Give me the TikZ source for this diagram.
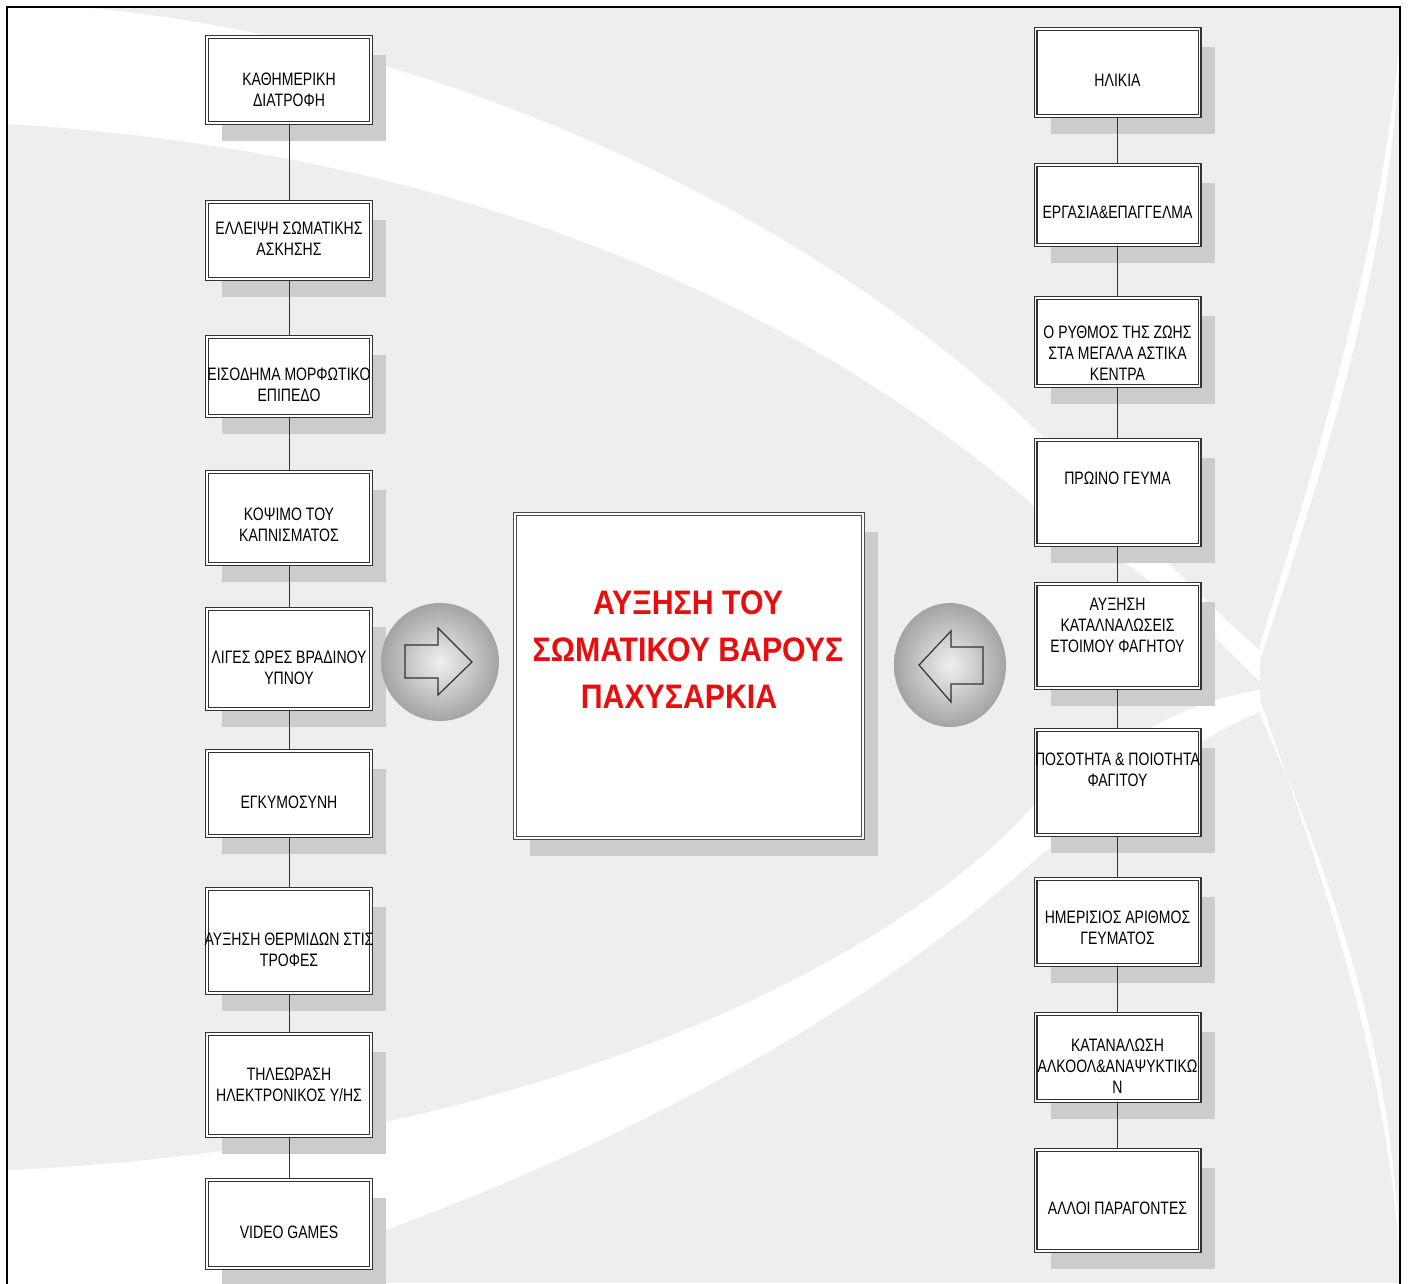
\documentclass[tikz,border=0pt]{standalone}
\usepackage{fontspec}
\newfontfamily\boxfont{Liberation Sans}[FakeStretch=0.78]
\newfontfamily\titlefont{Liberation Sans}[FakeStretch=0.89]
\usetikzlibrary{shadows, shapes.geometric, positioning}
\definecolor{bggray}{RGB}{238,238,238}
\definecolor{shadowgray}{RGB}{204,204,204}
\definecolor{linegray}{RGB}{50,50,50}
\definecolor{titlered}{RGB}{232,14,14}

\begin{document}
\begin{tikzpicture}[
  x=1pt, y=-1pt,
  factor/.style = {rectangle, draw=linegray, line width=1.2pt,
                   double=white, double distance=1.6pt, fill=white,
                   minimum width=164pt, inner sep=0pt,
                   drop shadow={shadow xshift=15pt, shadow yshift=-18pt,
                                opacity=1, fill=shadowgray}},
  ftext/.style  = {font=\boxfont\fontsize{18}{21}\selectfont,
                   align=center, inner sep=0pt},
  link/.style   = {draw=linegray, line width=1pt},
  knob/.style   = {inner sep=0pt, shading=radial,
                   inner color=gray!12, outer color=gray!72},
  blockarr/.style = {draw=linegray, line width=1.2pt, line join=miter},
]
\useasboundingbox (0,0) rectangle (1408,1283);

%% -- background swooshes -------------------------------------------------
\fill[bggray] (7,7) rectangle (1400,1283);
% upper band
\fill[white] (7,7) -- (80,7)
  .. controls (450,40) and (820,220) .. (1040,434)
  .. controls (1130,520) and (1200,600) .. (1260,650)
  -- (1260,682)
  .. controls (1190,610) and (1120,550) .. (1040,511)
  .. controls (800,300) and (450,150) .. (7,124) -- cycle;
% lower band
\fill[white] (7,1170)
  .. controls (500,1150) and (890,975) .. (1040,798)
  .. controls (1120,740) and (1190,700) .. (1260,690)
  -- (1260,712)
  .. controls (1190,740) and (1120,800) .. (1040,855)
  .. controls (850,1030) and (550,1190) .. (200,1290)
  -- (7,1290) -- cycle;
% thin strokes on the right
\fill[white] (1400,40) .. controls (1380,250) and (1320,450) .. (1260,645)
  -- (1260,660) .. controls (1330,450) and (1392,250) .. (1400,40) -- cycle;
\fill[white] (1400,1260) .. controls (1385,1050) and (1320,870) .. (1260,700)
  -- (1260,715) .. controls (1330,870) and (1393,1050) .. (1400,1260) -- cycle;
\draw[line width=2pt] (7,1290) -- (7,7) -- (1400,7) -- (1400,1290);

%% -- left column ---------------------------------------------------------
\node[factor, minimum height=86]  (l1) at (289,80)    {};
\node[factor, minimum height=77]  (l2) at (289,240.5) {};
\node[factor, minimum height=79]  (l3) at (289,376.5) {};
\node[factor, minimum height=92]  (l4) at (289,518)   {};
\node[factor, minimum height=100] (l5) at (289,659)   {};
\node[factor, minimum height=85]  (l6) at (289,793.5) {};
\node[factor, minimum height=104] (l7) at (289,941)   {};
\node[factor, minimum height=102] (l8) at (289,1085)  {};
\node[factor, minimum height=88]  (l9) at (289,1224)  {};

\node[ftext] (l1t) at (289,90)   {ΚΑΘΗΜΕΡΙΚΗ\\ΔΙΑΤΡΟΦΗ};
\node[ftext] (l2t) at (289,239)  {ΕΛΛΕΙΨΗ ΣΩΜΑΤΙΚΗΣ\\ΑΣΚΗΣΗΣ};
\node[ftext] (l3t) at (289,385)  {ΕΙΣΟΔΗΜΑ ΜΟΡΦΩΤΙΚΟ\\ΕΠΙΠΕΔΟ};
\node[ftext] (l4t) at (289,525)  {ΚΟΨΙΜΟ ΤΟΥ\\ΚΑΠΝΙΣΜΑΤΟΣ};
\node[ftext] (l5t) at (289,668)  {ΛΙΓΕΣ ΩΡΕΣ ΒΡΑΔΙΝΟΥ\\ΥΠΝΟΥ};
\node[ftext] (l6t) at (289,802)  {ΕΓΚΥΜΟΣΥΝΗ};
\node[ftext] (l7t) at (289,950)  {ΑΥΞΗΣΗ ΘΕΡΜΙΔΩΝ ΣΤΙΣ\\ΤΡΟΦΕΣ};
\node[ftext] (l8t) at (289,1085) {ΤΗΛΕΩΡΑΣΗ\\ΗΛΕΚΤΡΟΝΙΚΟΣ Υ/ΗΣ};
\node[ftext] (l9t) at (289,1232) {VIDEO GAMES};

\draw[link] (l1) -- (l2);
\draw[link] (l2) -- (l3);
\draw[link] (l3) -- (l4);
\draw[link] (l4) -- (l5);
\draw[link] (l5) -- (l6);
\draw[link] (l6) -- (l7);
\draw[link] (l7) -- (l8);
\draw[link] (l8) -- (l9);

%% -- right column --------------------------------------------------------
\node[factor, minimum height=87]  (r1) at (1117.5,72.5)  {};
\node[factor, minimum height=80]  (r2) at (1117.5,205)   {};
\node[factor, minimum height=88]  (r3) at (1117.5,342)   {};
\node[factor, minimum height=105] (r4) at (1117.5,492.5) {};
\node[factor, minimum height=104] (r5) at (1117.5,636)   {};
\node[factor, minimum height=105] (r6) at (1117.5,782.5) {};
\node[factor, minimum height=86]  (r7) at (1117.5,922)   {};
\node[factor, minimum height=87]  (r8) at (1117.5,1057.5) {};
\node[factor, minimum height=101] (r9) at (1117.5,1200.5) {};

\node[ftext] (r1t) at (1117.5,80)   {ΗΛΙΚΙΑ};
\node[ftext] (r2t) at (1117.5,212)  {ΕΡΓΑΣΙΑ\&ΕΠΑΓΓΕΛΜΑ};
\node[ftext] (r3t) at (1117.5,353)  {Ο ΡΥΘΜΟΣ ΤΗΣ ΖΩΗΣ\\ΣΤΑ ΜΕΓΑΛΑ ΑΣΤΙΚΑ\\ΚΕΝΤΡΑ};
\node[ftext] (r4t) at (1117.5,478)  {ΠΡΩΙΝΟ ΓΕΥΜΑ};
\node[ftext] (r5t) at (1117.5,625)  {ΑΥΞΗΣΗ\\ΚΑΤΑΛΝΑΛΩΣΕΙΣ\\ΕΤΟΙΜΟΥ ΦΑΓΗΤΟΥ};
\node[ftext] (r6t) at (1117.5,770)  {ΠΟΣΟΤΗΤΑ \& ΠΟΙΟΤΗΤΑ\\ΦΑΓΙΤΟΥ};
\node[ftext] (r7t) at (1117.5,928)  {ΗΜΕΡΙΣΙΟΣ ΑΡΙΘΜΟΣ\\ΓΕΥΜΑΤΟΣ};
\node[ftext] (r8t) at (1117.5,1066) {ΚΑΤΑΝΑΛΩΣΗ\\ΑΛΚΟΟΛ\&ΑΝΑΨΥΚΤΙΚΩ\\Ν};
\node[ftext] (r9t) at (1117.5,1208) {ΑΛΛΟΙ ΠΑΡΑΓΟΝΤΕΣ};

\draw[link] (r1) -- (r2);
\draw[link] (r2) -- (r3);
\draw[link] (r3) -- (r4);
\draw[link] (r4) -- (r5);
\draw[link] (r5) -- (r6);
\draw[link] (r6) -- (r7);
\draw[link] (r7) -- (r8);
\draw[link] (r8) -- (r9);

%% -- centre: outcome and the two pointers --------------------------------
\node[factor, draw=gray!60!black, minimum width=348pt, minimum height=324pt]
  (goal) at (689,676) {};
\node[font=\titlefont\bfseries\fontsize{34}{47}\selectfont,
      text=titlered, align=center, inner sep=0pt]
  (goalt) at (688,650) {ΑΥΞΗΣΗ ΤΟΥ\\ΣΩΜΑΤΙΚΟΥ ΒΑΡΟΥΣ\\ΠΑΧΥΣΑΡΚΙΑ\hspace*{18pt}};

\node[knob, circle, minimum size=118pt] (knobl) at (440,662) {};
\node[knob, ellipse, minimum width=112pt, minimum height=124pt] (knobr) at (950,665) {};

\draw[blockarr] (405,645) -- (438,645) -- (438,628) -- (472,662)
  -- (438,695) -- (438,678) -- (405,678) -- cycle;
\draw[blockarr] (983,647) -- (951,647) -- (951,631) -- (919,665)
  -- (951,702) -- (951,684) -- (983,684) -- cycle;

\end{tikzpicture}
\end{document}
